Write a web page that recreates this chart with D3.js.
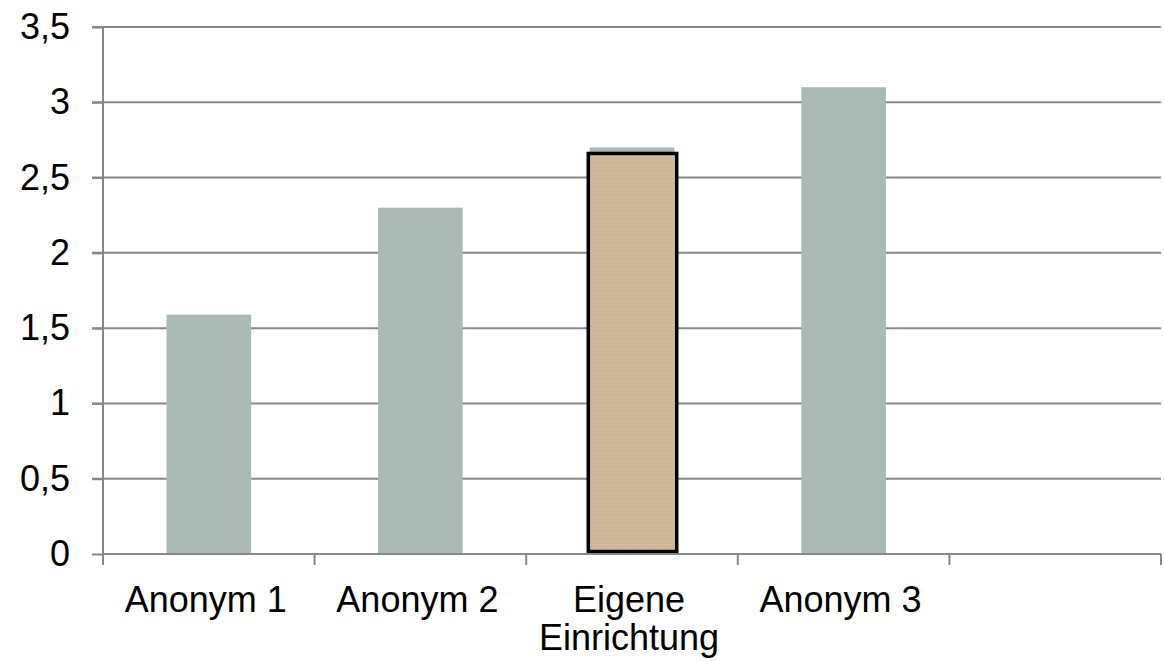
<!DOCTYPE html>
<html>
<head>
<meta charset="utf-8">
<script src="https://cdn.jsdelivr.net/npm/d3@7"></script>
<style>
  html, body { margin: 0; padding: 0; background: #fff; }
  svg { display: block; }
  text { font-family: "Liberation Sans", Arial, sans-serif; fill: #000; }
</style>
</head>
<body>
<svg id="chart" width="1164" height="661"></svg>
<script>
// ---- data ----
const categories = ["Anonym 1", "Anonym 2", "Eigene Einrichtung", "Anonym 3", ""];
const values = [1.59, 2.3, 2.7, 3.1, null];
const highlightCategory = "Eigene Einrichtung";
const highlightValue = 2.66;
const yTicks = [0, 0.5, 1, 1.5, 2, 2.5, 3, 3.5];
const yTickLabels = ["0", "0,5", "1", "1,5", "2", "2,5", "3", "3,5"];

// ---- layout ----
const svg = d3.select("#chart");
const margin = { left: 103, right: 3, top: 27, bottom: 107 };
const W = 1164, H = 661;
const x0 = margin.left, x1 = W - margin.right;
const y0 = H - margin.bottom, y1 = margin.top;

const x = d3.scaleBand().domain(categories).range([x0, x1]).padding(0);
const y = d3.scaleLinear().domain([0, 3.5]).range([y0, y1]);

const gridColor = "#878787";
const fontSize = 36;

// pattern for highlighted box (orange / grey mesh)
const defs = svg.append("defs");
const pat = defs.append("pattern").attr("id", "mesh").attr("patternUnits", "userSpaceOnUse")
  .attr("width", 4).attr("height", 4);
pat.append("rect").attr("width", 4).attr("height", 4).attr("fill", "#b4bab4");
pat.append("rect").attr("x", 0).attr("y", 0).attr("width", 2).attr("height", 2).attr("fill", "#eeb478");
pat.append("rect").attr("x", 2).attr("y", 2).attr("width", 1).attr("height", 2).attr("fill", "#ecb47c");
pat.append("rect").attr("x", 3).attr("y", 0).attr("width", 1).attr("height", 1).attr("fill", "#e8b581");

// gridlines
svg.append("g").selectAll("line").data(yTicks.filter(d => d > 0)).join("line")
  .attr("x1", x0 - 11).attr("x2", x1)
  .attr("y1", d => y(d)).attr("y2", d => y(d))
  .attr("stroke", gridColor).attr("stroke-width", 2);

// y axis
const yAxis = d3.axisLeft(y).tickValues(yTicks)
  .tickFormat((d, i) => yTickLabels[i]).tickSize(11).tickPadding(22);
const gy = svg.append("g").attr("transform", `translate(${x0},0)`).call(yAxis);
gy.select(".domain").remove();
gy.selectAll(".tick line").attr("stroke", gridColor).attr("stroke-width", 2);
gy.selectAll(".tick text").attr("font-size", fontSize).attr("font-family", "Liberation Sans, Arial, sans-serif").attr("fill", "#000");
svg.append("line").attr("x1", x0).attr("x2", x0).attr("y1", y1).attr("y2", y0)
  .attr("stroke", gridColor).attr("stroke-width", 2);

// bars
const barW = x.bandwidth() * 0.4;
svg.append("g").selectAll("rect").data(categories.map((c, i) => ({ c, v: values[i] })).filter(d => d.v != null))
  .join("rect")
  .attr("x", d => x(d.c) + x.bandwidth() / 2 - barW / 2)
  .attr("width", barW)
  .attr("y", d => y(d.v))
  .attr("height", d => y(0) - y(d.v))
  .attr("fill", "#aabab5");

// highlight box
const hbW = x.bandwidth() * 0.418;
svg.append("rect")
  .attr("x", x(highlightCategory) + x.bandwidth() / 2 - hbW / 2 + 0.5)
  .attr("width", hbW)
  .attr("y", y(highlightValue))
  .attr("height", y(0) - y(highlightValue) - 2.5)
  .attr("fill", "url(#mesh)")
  .attr("stroke", "#000").attr("stroke-width", 3.5);

// x axis
svg.append("line").attr("x1", x0).attr("x2", x1).attr("y1", y0).attr("y2", y0)
  .attr("stroke", gridColor).attr("stroke-width", 2);
const tickXs = categories.map(c => x(c)).concat([x1]);
svg.append("g").selectAll("line").data(tickXs).join("line")
  .attr("x1", d => d).attr("x2", d => d).attr("y1", y0).attr("y2", y0 + 11)
  .attr("stroke", gridColor).attr("stroke-width", 2);

// x labels
const labelLines = {
  "Anonym 1": ["Anonym 1"],
  "Anonym 2": ["Anonym 2"],
  "Eigene Einrichtung": ["Eigene", "Einrichtung"],
  "Anonym 3": ["Anonym 3"],
  "": []
};
categories.forEach(c => {
  const cx = x(c) + x.bandwidth() / 2 - 3;
  const t = svg.append("text")
    .attr("x", cx)
    .attr("y", 612)
    .attr("text-anchor", "middle")
    .attr("font-size", fontSize);
  labelLines[c].forEach((ln, i) => {
    t.append("tspan").attr("x", cx).attr("dy", i === 0 ? 0 : 38).text(ln);
  });
});
</script>
</body>
</html>
